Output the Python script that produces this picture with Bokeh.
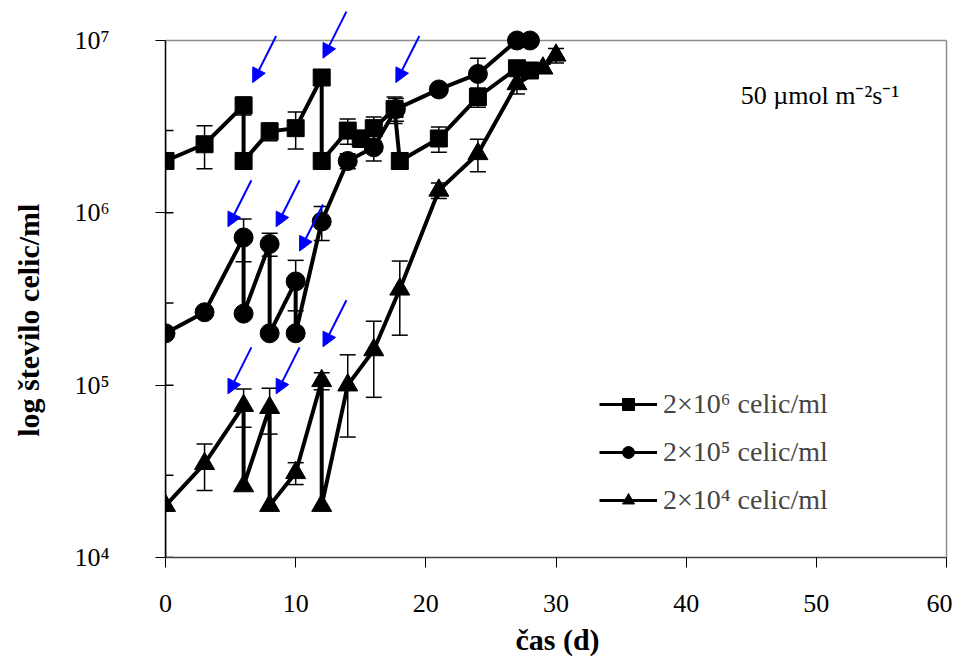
import numpy as np
from bokeh.plotting import figure
from bokeh.models import (ColumnDataSource, FixedTicker, Legend, LegendItem,
                          Arrow, NormalHead, Label, Range1d)
from bokeh.embed import file_html
from bokeh.resources import INLINE

# ---------------- data ----------------
sq_day = [0, 3, 6, 6, 8, 10, 12, 12, 14, 15, 16, 17.6, 18, 21, 24, 27, 28]
sq_val = [2.0e6, 2.5e6, 4.2e6, 2.0e6, 2.97e6, 3.1e6, 6.1e6, 2.0e6, 3.0e6, 2.7e6,
          3.1e6, 4.0e6, 2.0e6, 2.7e6, 4.7e6, 6.9e6, 6.7e6]
sq_sd = [1.0e6, 0.7e6, 0.5e6, 0, 0.35e6, 0.75e6, 0.5e6, 0, 0.5e6, 0.3e6,
         0.5e6, 0.7e6, 0, 0.45e6, 0.6e6, 0.3e6, 0.2e6]

ci_day = [0, 3, 6, 6, 8, 8, 10, 10, 12, 14, 16, 17.7, 21, 24, 27, 28]
ci_val = [2.0e5, 2.65e5, 7.2e5, 2.6e5, 6.6e5, 2.0e5, 4.0e5, 2.0e5, 8.9e5, 2.0e6,
          2.4e6, 4.0e6, 5.2e6, 6.4e6, 1.0e7, 1.0e7]
ci_sd = [1.0e5, 0, 2.0e5, 0, 1.0e5, 0, 1.3e5, 0, 2.0e5, 0.2e6,
         0.4e6, 0.6e6, 0, 1.5e6, 0, 0]

tr_day = [0, 3, 6, 6, 8, 8, 10, 12, 12, 14, 16, 18, 21, 24, 27, 29, 30]
tr_val = [2.0e4, 3.5e4, 7.6e4, 2.6e4, 7.4e4, 2.0e4, 3.1e4, 1.06e5, 2.0e4, 1.0e5,
          1.6e5, 3.6e5, 1.35e6, 2.2e6, 5.6e6, 6.9e6, 8.2e6]
tr_sd = [1.0e4, 1.05e4, 1.9e4, 0, 2.2e4, 0, 0.45e4, 0.12e5, 0, 0.5e5,
         0.75e5, 1.65e5, 0.14e6, 0.47e6, 0.7e6, 0.4e6, 0.8e6]

series_labels = ["2×10⁶ celic/ml", "2×10⁵ celic/ml", "2×10⁴ celic/ml"]

# dilution arrows (tip positions)
arrow_day = [6.7, 12.1, 17.7, 4.8, 8.5, 10.3, 4.8, 8.5, 12.1]
arrow_val = [5.7e6, 7.9e6, 5.7e6, 8.3e5, 8.3e5, 6.0e5, 8.9e4, 8.9e4, 1.67e5]

x_ticks = [0, 10, 20, 30, 40, 50, 60]
y_ticks = [1e4, 1e5, 1e6, 1e7]
y_tick_labels = ["10⁴", "10⁵", "10⁶", "10⁷"]

x_title = "čas (d)"
y_title = "log število celic/ml"
light_text = "50 µmol m⁻²s⁻¹"

FONT = "Liberation Serif"
GREY = "#8c8c8c"

# ---------------- figure ----------------
# frame extended a little above 10^7 / right of 60 so the arrows are not clipped
PX_DEC = 172.34
PX_DAY = 13.017
y_top = 10 ** (7 + 40 / PX_DEC)
x_right = 60 + 3 / PX_DAY

p = figure(frame_width=784, frame_height=557,
           y_axis_type="log",
           x_range=Range1d(0, x_right), y_range=Range1d(1e4, y_top),
           output_backend="svg", toolbar_location=None,
           min_border_left=165, min_border_right=3,
           min_border_top=0, min_border_bottom=103)
p.background_fill_color = "white"
p.border_fill_color = "white"
p.outline_line_color = None
p.grid.visible = False

# axes
p.xaxis.ticker = FixedTicker(ticks=x_ticks)
p.yaxis.ticker = FixedTicker(ticks=y_ticks)
p.xaxis.bounds = (x_ticks[0], x_ticks[-1])
p.yaxis.bounds = (y_ticks[0], y_ticks[-1])
p.yaxis.major_label_overrides = {float(t): s for t, s in zip(y_ticks, y_tick_labels)}
for ax in (p.xaxis, p.yaxis):
    ax.major_tick_in = 0
    ax.major_tick_out = 10
    ax.minor_tick_line_color = None
    ax.major_label_text_font = FONT
    ax.major_label_text_font_size = "26px"
    ax.major_label_text_color = "black"
    ax.major_tick_line_color = "black"
    ax.axis_label_text_font = FONT
    ax.axis_label_text_font_size = "30px"
    ax.axis_label_text_font_style = "bold"
    ax.axis_label_text_color = "black"
p.yaxis.axis_line_color = "black"
p.yaxis.axis_line_width = 1.5
p.xaxis.axis_line_color = "#444444"
p.xaxis.axis_line_width = 1.5
p.yaxis.major_label_standoff = 46
p.xaxis.major_label_standoff = 27
p.yaxis.axis_label_standoff = 26
p.xaxis.axis_label_standoff = 8
p.xaxis.axis_label = x_title
# trailing no-break spaces centre the title on the 10^4..10^7 span, as in the original
p.yaxis.axis_label = y_title + "\u00a0" * 11

# plot-area border (top and right)
p.segment(x0=[x_ticks[0], x_ticks[-1]], y0=[y_ticks[-1], y_ticks[0]],
          x1=[x_ticks[-1], x_ticks[-1]], y1=[y_ticks[-1], y_ticks[-1]],
          line_color=GREY, line_width=1.5)

# ---------------- series ----------------
def add_series(days, vals, sds, marker, size, legend_size):
    d = np.array(days, dtype=float)
    v = np.array(vals, dtype=float)
    s = np.array(sds, dtype=float)
    m = s > 0
    eb = ColumnDataSource(dict(x=d[m], lo=v[m] - s[m], hi=v[m] + s[m]))
    p.segment(x0="x", y0="lo", x1="x", y1="hi", source=eb,
              line_color="black", line_width=1.5)
    p.scatter(x="x", y="lo", source=eb, marker="dash", size=16,
              line_color="black", line_width=1.5)
    p.scatter(x="x", y="hi", source=eb, marker="dash", size=16,
              line_color="black", line_width=1.5)
    src = ColumnDataSource(dict(x=d, y=v))
    p.line(x="x", y="y", source=src, line_color="black", line_width=4)
    p.scatter(x="x", y="y", source=src, marker=marker, size=size,
              fill_color="black", line_color="black")
    # legend swatches (smaller, as in the original legend)
    nan_src = ColumnDataSource(dict(x=[np.nan], y=[np.nan]))
    lg_line = p.line(x="x", y="y", source=nan_src, line_color="black",
                     line_width=3)
    lg_mark = p.scatter(x="x", y="y", source=nan_src, marker=marker,
                        size=legend_size, fill_color="black",
                        line_color="black")
    return lg_line, lg_mark

r1 = add_series(sq_day, sq_val, sq_sd, "square", 17, 13)
r2 = add_series(ci_day, ci_val, ci_sd, "circle", 19, 15)
r3 = add_series(tr_day, tr_val, tr_sd, "triangle", 20, 16)

# ---------------- arrows ----------------
ad = np.array(arrow_day)
av = np.array(arrow_val)
asrc = ColumnDataSource(dict(x0=ad + 1.8, y0=av * 10 ** 0.27, x1=ad, y1=av))
p.add_layout(Arrow(x_start="x0", y_start="y0", x_end="x1", y_end="y1",
                   source=asrc, line_color="#0000ff", line_width=2,
                   end=NormalHead(size=14, fill_color="#0000ff",
                                  line_color="#0000ff")))

# ---------------- legend ----------------
legend = Legend(items=[LegendItem(label=series_labels[0], renderers=list(r1)),
                       LegendItem(label=series_labels[1], renderers=list(r2)),
                       LegendItem(label=series_labels[2], renderers=list(r3))],
                location=(434, 41))
legend.border_line_color = None
legend.background_fill_alpha = 0
legend.label_text_font = FONT
legend.label_text_font_size = "28px"
legend.glyph_width = 58
legend.glyph_height = 30
legend.label_height = 30
legend.spacing = 16
legend.padding = 0
legend.margin = 0
legend.label_standoff = 6
p.add_layout(legend)

# ---------------- light intensity note ----------------
p.add_layout(Label(x=44.2, y=4.8e6, text=light_text, text_font=FONT,
                   text_font_size="26px", text_baseline="middle",
                   text_color="black"))

open("out.html", "w").write(file_html(p, INLINE))
